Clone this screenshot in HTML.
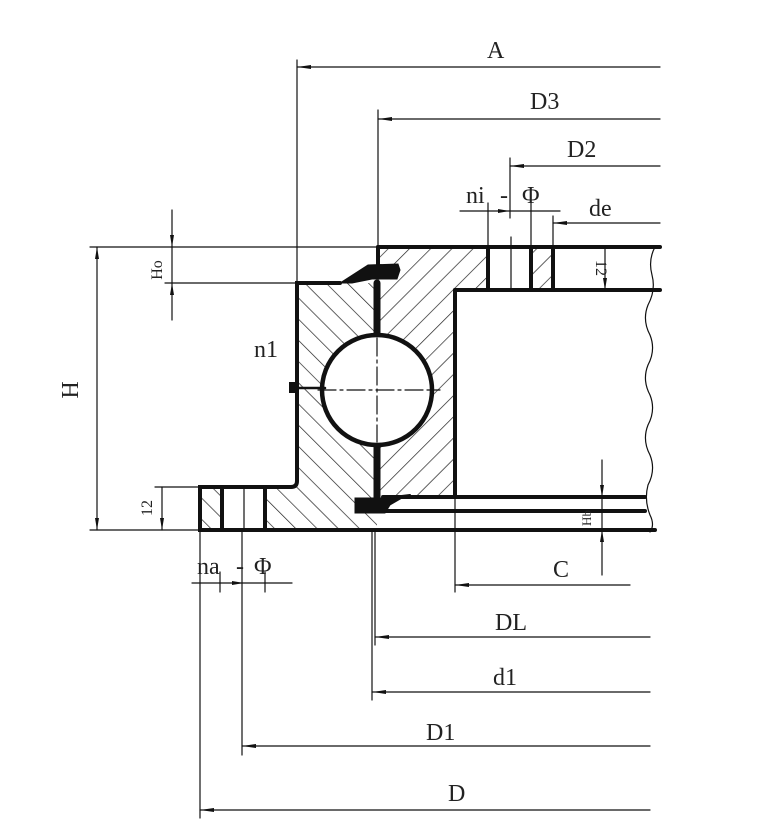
<!DOCTYPE html>
<html><head><meta charset="utf-8"><style>
html,body{margin:0;padding:0;background:#fff;}
svg{display:block;}
text{font-family:"Liberation Serif",serif;fill:#222;}
</style></head><body>
<svg width="758" height="832" viewBox="0 0 758 832" xmlns="http://www.w3.org/2000/svg">
<defs>
<pattern id="hb" patternUnits="userSpaceOnUse" width="15" height="15" patternTransform="rotate(-45)">
<line x1="0" y1="0" x2="0" y2="15" stroke="#222" stroke-width="1.4"/></pattern>
<pattern id="hf" patternUnits="userSpaceOnUse" width="15" height="15" patternTransform="rotate(45)">
<line x1="0" y1="0" x2="0" y2="15" stroke="#222" stroke-width="1.4"/></pattern>
</defs>
<path d="M297,283 L377,283 L377,530 L265,530 L265,487 L297,487 Z" fill="url(#hb)"/>
<rect x="200" y="487" width="22" height="43" fill="url(#hb)"/>
<path d="M377,247 L488,247 L488,290 L455,290 L455,497 L377,497 Z" fill="url(#hf)"/>
<rect x="531" y="247" width="22" height="43" fill="url(#hf)"/>

<g stroke="#111" fill="none" stroke-linecap="round">
<g stroke-width="4">
<line x1="378" y1="247" x2="660" y2="247"/>
<line x1="455" y1="290" x2="660" y2="290"/>
<line x1="378" y1="247" x2="378" y2="265"/>
<line x1="455" y1="290" x2="455" y2="497"/>
<line x1="488" y1="247" x2="488" y2="290"/>
<line x1="531" y1="247" x2="531" y2="290"/>
<line x1="553" y1="247" x2="553" y2="290"/>
<path d="M340,283 L297,283 L297,481 Q297,487 291,487 L200,487 L200,530 L655,530"/>
<line x1="222" y1="487" x2="222" y2="530"/>
<line x1="265" y1="487" x2="265" y2="530"/>
<line x1="383" y1="497" x2="645" y2="497"/>
<line x1="370" y1="511" x2="645" y2="511"/>
</g>
<path d="M377,283 L377,336 M377,444 L377,498" stroke-width="7"/>
<circle cx="377" cy="390" r="55" fill="#fff" stroke-width="4.5"/>
<path d="M340,283 L368,265 L398,264 L400,270 L397,279 L372,279 L352,283 Z" fill="#111" stroke-width="1"/>
<path d="M355,498 L385,498 L402,498 L390,505 L385,513 L355,513 Z" fill="#111" stroke-width="1"/>
<path d="M385,498 L410,495" stroke-width="2"/>
<rect x="289" y="382" width="9" height="11" fill="#111" stroke="none"/>
<line x1="297" y1="388" x2="325" y2="388" stroke-width="2.5"/>
<g stroke-width="1.2" stroke-dasharray="18,4,3,4">
<line x1="318" y1="390" x2="440" y2="390"/>
<line x1="377" y1="338" x2="377" y2="442"/>
</g>
<path d="M655,247 Q648,260 652,275 Q656,290 648,305 Q642,320 650,335 Q656,350 648,365 Q642,380 650,395 Q656,410 648,425 Q642,440 650,455 Q656,470 648,485 Q644,500 650,515 Q655,525 650,532" stroke-width="1.2"/>
<g stroke-width="1.2">
<line x1="90" y1="247" x2="378" y2="247"/>
<line x1="511" y1="237" x2="511" y2="290"/>
<line x1="244" y1="487" x2="244" y2="530"/>
<line x1="605" y1="247" x2="605" y2="290"/>
<line x1="297" y1="60" x2="297" y2="283"/>
<line x1="297" y1="67" x2="660" y2="67"/>
<line x1="378" y1="110" x2="378" y2="247"/>
<line x1="378" y1="119" x2="660" y2="119"/>
<line x1="510" y1="158" x2="510" y2="218"/>
<line x1="510" y1="166" x2="660" y2="166"/>
<line x1="460" y1="211" x2="560" y2="211"/>
<line x1="488" y1="203" x2="488" y2="247"/>
<line x1="531" y1="203" x2="531" y2="247"/>
<line x1="553" y1="216" x2="553" y2="247"/>
<line x1="553" y1="223" x2="660" y2="223"/>
<line x1="97" y1="247" x2="97" y2="530"/>
<line x1="90" y1="530" x2="200" y2="530"/>
<line x1="172" y1="210" x2="172" y2="320"/>
<line x1="165" y1="283" x2="297" y2="283"/>
<line x1="162" y1="487" x2="162" y2="530"/>
<line x1="155" y1="487" x2="200" y2="487"/>
<line x1="602" y1="460" x2="602" y2="575"/>
<line x1="455" y1="497" x2="455" y2="592"/>
<line x1="455" y1="585" x2="630" y2="585"/>
<line x1="375" y1="530" x2="375" y2="645"/>
<line x1="375" y1="637" x2="650" y2="637"/>
<line x1="372" y1="530" x2="372" y2="700"/>
<line x1="372" y1="692" x2="650" y2="692"/>
<line x1="242" y1="530" x2="242" y2="755"/>
<line x1="242" y1="746" x2="650" y2="746"/>
<line x1="200" y1="530" x2="200" y2="818"/>
<line x1="200" y1="810" x2="650" y2="810"/>
<line x1="192" y1="583" x2="292" y2="583"/>
<line x1="220" y1="572" x2="220" y2="592"/>
<line x1="265" y1="572" x2="265" y2="592"/>
</g>
</g>
<g fill="#111">
<path d="M297,67 l14,-2 v4 z"/>
<path d="M378,119 l14,-2 v4 z"/>
<path d="M510,166 l14,-2 v4 z"/>
<path d="M553,223 l14,-2 v4 z"/>
<path d="M455,585 l14,-2 v4 z"/>
<path d="M375,637 l14,-2 v4 z"/>
<path d="M372,692 l14,-2 v4 z"/>
<path d="M242,746 l14,-2 v4 z"/>
<path d="M200,810 l14,-2 v4 z"/>
<path d="M510,211 l-12,-2 v4 z"/>
<path d="M244,583 l-12,-2 v4 z"/>
<path d="M97,247 l-2,12 h4 z"/>
<path d="M97,530 l-2,-12 h4 z"/>
<path d="M172,247 l-2,-12 h4 z"/>
<path d="M172,283 l-2,12 h4 z"/>
<path d="M162,530 l-2,-12 h4 z"/>
<path d="M605,290 l-2,-12 h4 z"/>
<path d="M602,497 l-2,-12 h4 z"/>
<path d="M602,530 l-2,12 h4 z"/>
</g>
<g font-size="24">
<text x="487" y="58">A</text>
<text x="530" y="109">D3</text>
<text x="567" y="157">D2</text>
<text x="466" y="203">ni</text>
<text x="500" y="203">-</text>
<text x="522" y="203">Φ</text>
<text x="589" y="216">de</text>
<text x="254" y="357">n1</text>
<text x="553" y="577">C</text>
<text x="495" y="630">DL</text>
<text x="493" y="685">d1</text>
<text x="426" y="740">D1</text>
<text x="448" y="801">D</text>
<text x="197" y="574">na</text>
<text x="236" y="574">-</text>
<text x="254" y="574">Φ</text>
<text transform="translate(78,390) rotate(-90)" text-anchor="middle">H</text>
</g>
<g font-size="16">
<text transform="translate(162,270) rotate(-90)" text-anchor="middle">Ho</text>
<text transform="translate(596,268) rotate(90)" text-anchor="middle">12</text>
<text transform="translate(152,508) rotate(-90)" text-anchor="middle">12</text>
<text transform="translate(591,518) rotate(-90)" text-anchor="middle" font-size="13">Hb</text>
</g>
</svg>
</body></html>
